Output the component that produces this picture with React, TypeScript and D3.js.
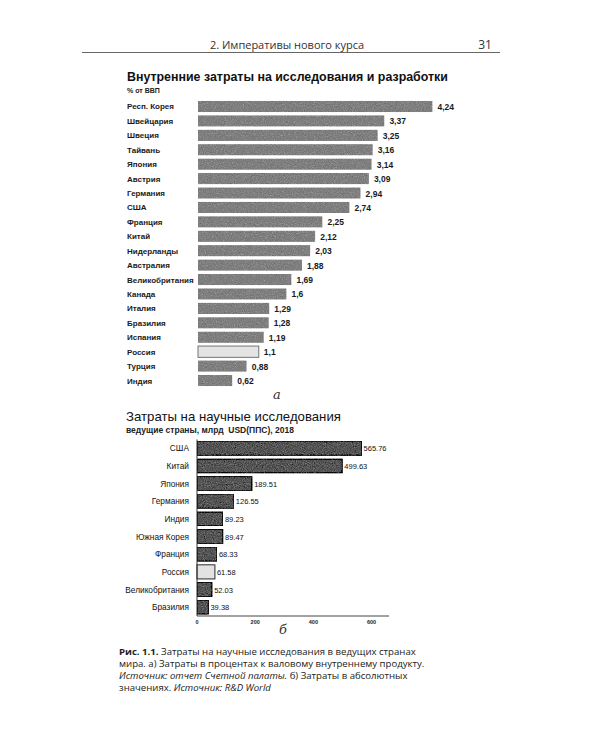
import React from "react";
import * as d3 from "d3";

const countriesA = ["Респ. Корея","Швейцария","Швеция","Тайвань","Япония","Австрия","Германия","США","Франция","Китай","Нидерланды","Австралия","Великобритания","Канада","Италия","Бразилия","Испания","Россия","Турция","Индия"];
const valuesA = [4.24,3.37,3.25,3.16,3.14,3.09,2.94,2.74,2.25,2.12,2.03,1.88,1.69,1.6,1.29,1.28,1.19,1.1,0.88,0.62];
const labelsA = ["4,24","3,37","3,25","3,16","3,14","3,09","2,94","2,74","2,25","2,12","2,03","1,88","1,69","1,6","1,29","1,28","1,19","1,1","0,88","0,62"];

const countriesB = ["США","Китай","Япония","Германия","Индия","Южная Корея","Франция","Россия","Великобритания","Бразилия"];
const valuesB = [565.76,499.63,189.51,126.55,89.23,89.47,68.33,61.58,52.03,39.38];
const labelsB = ["565.76","499.63","189.51","126.55","89.23","89.47","68.33","61.58","52.03","39.38"];
const ticksB = [0,200,400,600];

const captionLines: {t:string; s:"b"|"n"|"i"}[][] = [
  [{t:"Рис. 1.1.",s:"b"},{t:" Затраты на научные исследования в ведущих странах",s:"n"}],
  [{t:"мира. а) Затраты в процентах к валовому внутреннему продукту.",s:"n"}],
  [{t:"Источник: отчет Счетной палаты.",s:"i"},{t:" б) Затраты в абсолютных",s:"n"}],
  [{t:"значениях. ",s:"n"},{t:"Источник: R&D World",s:"i"}],
];

const highlight = "Россия";
const arial = "'Liberation Sans', Arial, sans-serif";
const book = "'Open Sans', 'Noto Sans', sans-serif";

export default function App() {
  const xA = d3.scaleLinear().domain([0, 4.24]).range([198, 432.5]);
  const yA = d3.scaleBand<string>().domain(countriesA).range([97.7, 389.3]).padding(0.22);
  const xB = d3.scaleLinear().domain([0, 660]).range([197, 389]);
  const yB = d3.scaleBand<string>().domain(countriesB).range([439.5, 616]).paddingInner(0.2).paddingOuter(0.1);

  return (
    <svg width={600} height={750} style={{position:"absolute", left:0, top:0, background:"#fff"}}>
      <defs>
        <filter id="grain" x="0" y="0" width="100%" height="100%">
          <feTurbulence type="fractalNoise" baseFrequency="0.9" numOctaves={2} seed={4} result="noise"/>
          <feColorMatrix in="noise" type="saturate" values="0" result="gnoise"/>
          <feComposite in="SourceGraphic" in2="gnoise" operator="arithmetic" k1={0} k2={1} k3={0.5} k4={-0.25} result="mix"/>
          <feComposite in="mix" in2="SourceGraphic" operator="in"/>
        </filter>
      </defs>
      <rect width={600} height={750} fill="#fff"/>
      {/* header */}
      <text x={287} y={49} textAnchor="middle" fontFamily={book} fontSize={11} fill="#333">2. Императивы нового курса</text>
      <text x={485} y={49} textAnchor="middle" fontFamily={book} fontSize={12} fill="#333">31</text>
      <line x1={82} x2={500} y1={52.5} y2={52.5} stroke="#666" strokeWidth={1}/>

      {/* chart a */}
      <text x={127} y={81} fontFamily={arial} fontWeight="bold" fontSize={12.4} fill="#111">Внутренние затраты на исследования и разработки</text>
      <text x={127} y={93} fontFamily={arial} fontWeight="bold" fontSize={7} fill="#222">% от ВВП</text>
      {countriesA.map((c, i) => {
        const y = yA(c)!;
        const h = yA.bandwidth();
        const isH = c === highlight;
        return (
          <g key={c}>
            <text x={127} y={y + h / 2 + 3} fontFamily={arial} fontWeight="bold" fontSize={8} fill="#1a1a1a">{c}</text>
            <rect x={xA(0)} y={y} width={xA(valuesA[i]) - xA(0)} height={h}
              fill={isH ? "#e4e4e4" : "#9a9a9a"} stroke={isH ? "#555" : "none"} strokeWidth={isH ? 0.8 : 0}
              filter={isH ? undefined : "url(#grain)"}/>
            <text x={xA(valuesA[i]) + 5} y={y + h / 2 + 3.5} fontFamily={arial} fontWeight="bold" fontSize={8.5} fill="#1a1a1a">{labelsA[i]}</text>
          </g>
        );
      })}
      <text x={277} y={399} textAnchor="middle" fontFamily="'DejaVu Serif', serif" fontStyle="italic" fontSize={13} fill="#333">а</text>

      {/* chart b */}
      <text x={126} y={421} fontFamily={arial} fontSize={13.2} fill="#111">Затраты на научные исследования</text>
      <text x={126} y={432.5} fontFamily={arial} fontWeight="bold" fontSize={8.5} fill="#222" style={{whiteSpace:"pre"}}>ведущие страны, млрд  USD(ППС), 2018</text>
      {countriesB.map((c, i) => {
        const y = yB(c)!;
        const h = yB.bandwidth();
        const isH = c === highlight;
        return (
          <g key={c}>
            <text x={189} y={y + h / 2 + 3} textAnchor="end" fontFamily={arial} fontSize={8.3} fill="#111">{c}</text>
            <rect x={xB(0)} y={y} width={xB(valuesB[i]) - xB(0)} height={h}
              fill={isH ? "#e2e2e2" : "#7e7e7e"} stroke="#2a2a2a" strokeWidth={1}
              filter={isH ? undefined : "url(#grain)"}/>
            <text x={xB(valuesB[i]) + 2} y={y + h / 2 + 3} fontFamily={arial} fontSize={7.5} fill="#111">{labelsB[i]}</text>
          </g>
        );
      })}
      <line x1={xB(0)} x2={xB(0)} y1={yB.range()[0]} y2={616} stroke="#333" strokeWidth={1}/>
      <line x1={xB(0)} x2={xB(660)} y1={616} y2={616} stroke="#444" strokeWidth={1}/>
      {ticksB.map(t => (
        <text key={t} x={xB(t)} y={624} textAnchor="middle" fontFamily={arial} fontWeight="bold" fontSize={5.5} fill="#222">{t}</text>
      ))}
      <text x={283} y={634} textAnchor="middle" fontFamily="'DejaVu Serif', serif" fontStyle="italic" fontSize={13} fill="#333">б</text>

      {/* caption */}
      {captionLines.map((line, li) => (
        <text key={li} x={119} y={655 + li * 12} fontFamily={book} fontSize={9.6} fill="#222">
          {line.map((seg, si) => (
            <tspan key={si} fontWeight={seg.s === "b" ? "bold" : "normal"} fontStyle={seg.s === "i" ? "italic" : "normal"}>{seg.t}</tspan>
          ))}
        </text>
      ))}
    </svg>
  );
}
